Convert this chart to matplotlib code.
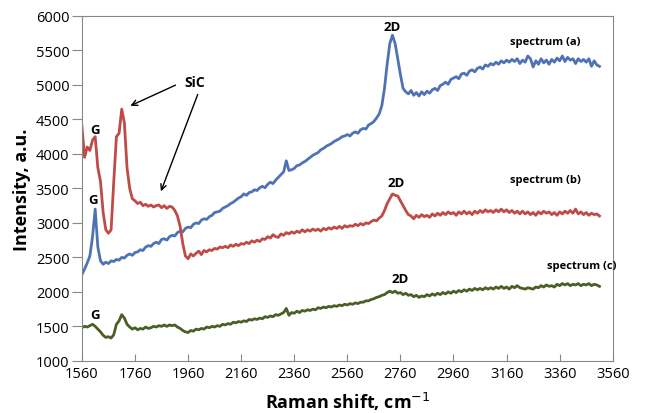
import numpy as np
import matplotlib.pyplot as plt

# Raman shift grid (cm-1), one reading every 10 cm-1
shift = np.arange(1560, 3520, 10)

# spectrum (a) - blue
spec_a = [
    2250, 2330, 2420, 2520, 2800, 3200, 2650, 2450, 2400, 2430,
    2410, 2450, 2440, 2470, 2460, 2500, 2490, 2530, 2550, 2530,
    2570, 2580, 2610, 2600, 2650, 2670, 2660, 2700, 2720, 2700,
    2760, 2770, 2750, 2800, 2820, 2810, 2860, 2880, 2870, 2920,
    2940, 2930, 2980, 3000, 2990, 3040, 3060, 3050, 3090, 3110,
    3150, 3160, 3170, 3210, 3230, 3250, 3280, 3300, 3330, 3360,
    3380, 3420, 3400, 3440, 3450, 3480, 3470, 3510, 3530, 3510,
    3560, 3590, 3570, 3620, 3660, 3700, 3740, 3900, 3760, 3770,
    3790, 3830, 3840, 3870, 3890, 3920, 3950, 3980, 4000, 4020,
    4060, 4080, 4110, 4130, 4150, 4180, 4200, 4220, 4250, 4260,
    4280, 4260, 4300, 4320, 4300, 4350, 4370, 4360, 4420, 4440,
    4470, 4520, 4580, 4700, 4950, 5300, 5600, 5720, 5600, 5380,
    5150, 4950, 4900, 4870, 4920, 4850, 4890, 4840, 4900, 4860,
    4910, 4880, 4930, 4950, 4920, 4990, 5010, 5040, 5010, 5080,
    5100, 5120, 5090, 5160, 5170, 5140, 5200, 5220, 5190, 5240,
    5260, 5230, 5290, 5270, 5310, 5290, 5330, 5300, 5350, 5320,
    5360, 5330, 5370, 5340, 5380, 5310, 5360, 5330, 5420, 5380,
    5260, 5350, 5300, 5380, 5320, 5360, 5300, 5370, 5330, 5390,
    5350, 5420, 5340, 5400, 5360, 5380, 5310, 5380, 5340, 5370,
    5330, 5380, 5270, 5350, 5290, 5270,
]

# spectrum (b) - red
spec_b = [
    4400, 3950, 4100, 4050, 4200, 4250, 3800, 3600, 3150, 2900,
    2850, 2900, 3600, 4250, 4300, 4650, 4450, 3800, 3500, 3350,
    3320, 3280, 3300, 3250, 3270, 3240, 3260, 3230, 3250, 3260,
    3220, 3250, 3210, 3240, 3230, 3180, 3100, 2950, 2700, 2520,
    2480, 2550, 2520, 2560, 2590, 2540, 2600, 2580, 2610, 2600,
    2630, 2620, 2650, 2640, 2660, 2640, 2680, 2660, 2690, 2670,
    2700, 2690, 2720, 2700, 2740, 2720, 2750, 2730, 2770, 2760,
    2800, 2780, 2830, 2800, 2790, 2840, 2820, 2860, 2840, 2870,
    2850, 2880, 2860, 2900, 2870, 2900, 2880, 2910, 2890, 2910,
    2880, 2920, 2900, 2930, 2910, 2940, 2920, 2950, 2920, 2960,
    2940, 2960, 2950, 2980, 2960, 2990, 2970, 3000, 2990, 3020,
    3040, 3030, 3070, 3100, 3180, 3280, 3350, 3420, 3400, 3390,
    3320, 3250, 3180, 3120, 3100, 3060, 3110, 3080, 3120, 3090,
    3110, 3080, 3130, 3100, 3140, 3110, 3150, 3120, 3160, 3130,
    3150, 3110, 3160, 3130, 3170, 3130, 3160, 3120, 3170, 3140,
    3180, 3150, 3190, 3160, 3180, 3150, 3190, 3160, 3200, 3160,
    3190, 3150, 3180, 3140, 3170, 3130, 3170, 3130, 3160, 3120,
    3150, 3110, 3160, 3130, 3170, 3140, 3160, 3120, 3150, 3110,
    3160, 3130, 3170, 3140, 3180, 3140, 3200, 3130, 3160, 3120,
    3150, 3110, 3140, 3120, 3130, 3100,
]

# spectrum (c) - green
spec_c = [
    1480, 1500, 1490, 1510, 1530, 1500, 1460, 1420, 1370, 1340,
    1350, 1330, 1380, 1530, 1580, 1670, 1620, 1530, 1490, 1460,
    1480, 1450, 1470, 1460, 1490, 1470, 1480, 1500, 1490, 1510,
    1500, 1520, 1500, 1520, 1510, 1520, 1490, 1470, 1440, 1420,
    1410, 1440, 1430, 1460, 1450, 1470, 1460, 1490, 1480, 1500,
    1490, 1510, 1500, 1530, 1520, 1540, 1530, 1560, 1550, 1570,
    1560, 1580, 1570, 1600, 1590, 1610, 1600, 1620, 1610, 1640,
    1630, 1650, 1640, 1670, 1660, 1680, 1700, 1760, 1660, 1700,
    1690, 1720, 1700, 1730, 1720, 1740, 1730, 1750, 1740, 1770,
    1760, 1780, 1770, 1790, 1780, 1800, 1790, 1810, 1800, 1820,
    1810, 1830, 1820, 1840, 1830, 1850, 1850, 1870, 1870, 1890,
    1900, 1920, 1930, 1950, 1960, 1990, 2010, 1990, 2010, 1980,
    1990, 1960, 1980, 1950, 1960, 1930, 1950, 1920, 1940, 1930,
    1960, 1940, 1970, 1950, 1980, 1960, 1990, 1970, 2000, 1980,
    2010, 1990, 2020, 2000, 2030, 2010, 2040, 2020, 2050, 2030,
    2050, 2030, 2060, 2040, 2060, 2040, 2070, 2050, 2080, 2050,
    2070, 2040, 2080, 2060, 2090, 2060, 2050, 2040, 2060, 2050,
    2040, 2070, 2060, 2090, 2070, 2100, 2080, 2090, 2070, 2110,
    2090, 2120, 2100, 2120, 2090, 2110, 2100, 2120, 2090, 2110,
    2100, 2120, 2090, 2110, 2100, 2080,
]

x_ticks = list(range(1560, 3561, 200))
y_ticks = list(range(1000, 6001, 500))

plt.rcParams['font.family'] = ['Open Sans', 'DejaVu Sans']

fig = plt.figure(figsize=(6.45, 4.14), dpi=100)
ax = fig.add_axes([0.127, 0.126, 0.823, 0.833])

ax.plot(shift, spec_a, color='#4F72B5', lw=2.0)
ax.plot(shift, spec_b, color='#BE4B48', lw=2.0)
ax.plot(shift, spec_c, color='#4A5E26', lw=2.0)

ax.set_xlim(1560, 3560)
ax.set_ylim(1000, 6000)
ax.set_xticks(x_ticks)
ax.set_yticks(y_ticks)
ax.tick_params(axis='x', direction='in', length=5, labelsize=10.5, pad=4, color='#888888')
ax.tick_params(axis='y', direction='out', length=7, labelsize=10.5, pad=2, color='#888888')
for s in ax.spines.values():
    s.set_color('#888888')

ax.set_xlabel('Raman shift, cm$^{-1}$', fontsize=13, fontweight='bold', labelpad=6)
ax.set_ylabel('Intensity, a.u.', fontsize=13, fontweight='bold', labelpad=3)

# peak labels
bold = dict(fontweight='bold', ha='center', va='center')
ax.text(1609, 4348, 'G', fontsize=9.5, **bold)
ax.text(1601, 3333, 'G', fontsize=9.5, **bold)
ax.text(1609, 1667, 'G', fontsize=9.5, **bold)
ax.text(2728, 5841, '2D', fontsize=9.5, **bold)
ax.text(2743, 3580, '2D', fontsize=9.5, **bold)
ax.text(2758, 2188, '2D', fontsize=9.5, **bold)
ax.text(3304, 5623, 'spectrum (a)', fontsize=8, **bold)
ax.text(3308, 3623, 'spectrum (b)', fontsize=8, **bold)
ax.text(3443, 2377, 'spectrum (c)', fontsize=8, **bold)
ax.text(1986, 5043, 'SiC', fontsize=10, **bold)

arrow = dict(arrowstyle='->', color='black', lw=1.0)
ax.annotate('', xy=(1733, 4681), xytext=(1922, 5014), arrowprops=arrow)
ax.annotate('', xy=(1854, 3420), xytext=(2000, 4899), arrowprops=arrow)

fig.savefig('out.png', dpi=100)
